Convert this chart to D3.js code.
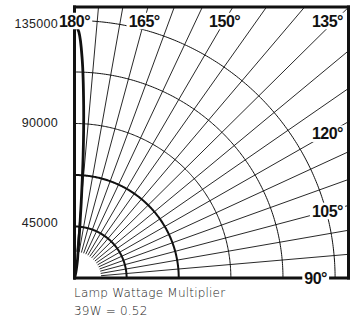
<!DOCTYPE html>
<html>
<head>
<meta charset="utf-8">
<script src="https://cdn.jsdelivr.net/npm/d3@7"></script>
<style>
  html, body { margin: 0; padding: 0; background: #fff; }
  svg { display: block; }
</style>
</head>
<body>
<svg id="chart" width="352" height="320"></svg>
<script>
// Candela distribution (vertical angle in degrees, intensity in cd)
const curveAngles = [180, 179, 178, 177, 176, 175, 174, 173, 172, 171, 170, 168, 165, 160];
const curveCandela = [134000, 130000, 118000, 98000, 76000, 56000, 44000, 37000, 33000, 31000, 29000, 26000, 24000, 22500];

// Grid
const ringValues = [45000, 67500, 90000, 112500, 135000];
const boldRings = [45000, 67500];
const tickValues = [45000, 90000, 135000];
const spokeAngles = d3.range(90, 181, 5);
const angleLabels = [90, 105, 120, 135, 150, 165, 180];
const innerValue = 34000;

// Notes under the plot
const noteLines = ["Lamp Wattage Multiplier", "39W = 0.52"];

const svg = d3.select("#chart");

// Plot frame (pole at lower-left corner)
const ox = 74.5, oy = 278, sx = 1.012;
const frame = { left: 74.5, top: 7, right: 348.5, bottom: 278 };

const r = d3.scaleLinear().domain([22500, 135000]).range([0, 257.5]);
const yAxisScale = d3.scaleLinear().domain([0, 135000]).range([322.1, 23.3]);

function proj(angle, rad) {
  const a = (180 - angle) * Math.PI / 180;
  return [ox + sx * rad * Math.sin(a), oy - rad * Math.cos(a)];
}

svg.append("defs").append("clipPath").attr("id", "frameClip")
  .append("rect")
  .attr("x", frame.left).attr("y", frame.top)
  .attr("width", frame.right - frame.left).attr("height", frame.bottom - frame.top);

const grid = svg.append("g").attr("clip-path", "url(#frameClip)");

// Spokes
grid.selectAll("line.spoke")
  .data(spokeAngles)
  .join("line")
  .attr("class", "spoke")
  .attr("x1", d => proj(d, r(innerValue))[0])
  .attr("y1", d => proj(d, r(innerValue))[1])
  .attr("x2", d => proj(d, 420)[0])
  .attr("y2", d => proj(d, 420)[1])
  .attr("stroke", "#111")
  .attr("stroke-width", 0.9);

// Rings
const arcSteps = d3.range(90, 180.001, 0.5);
const ringPath = d3.line();
grid.selectAll("path.ring")
  .data(ringValues)
  .join("path")
  .attr("class", "ring")
  .attr("d", v => ringPath(arcSteps.map(a => proj(a, r(v)))))
  .attr("fill", "none")
  .attr("stroke", "#111")
  .attr("stroke-width", v => boldRings.includes(v) ? 2 : 1);

// Candela curve
const curvePts = curveAngles.map((a, i) => proj(a, r(curveCandela[i])));
svg.append("path")
  .attr("d", d3.line().curve(d3.curveCatmullRom)(curvePts))
  .attr("fill", "none")
  .attr("stroke", "#111")
  .attr("stroke-width", 2.8)
  .attr("stroke-linecap", "round");

// Frame
const fg = svg.append("g").attr("stroke", "#111").attr("stroke-width", 3);
fg.append("line").attr("x1", frame.left - 1.5).attr("x2", frame.right + 1.5).attr("y1", frame.top).attr("y2", frame.top);
fg.append("line").attr("x1", frame.left - 1.5).attr("x2", frame.right + 1.5).attr("y1", frame.bottom).attr("y2", frame.bottom);
fg.append("line").attr("x1", frame.left).attr("x2", frame.left).attr("y1", frame.top - 1.5).attr("y2", frame.bottom + 1.5);
fg.append("line").attr("x1", frame.right).attr("x2", frame.right).attr("y1", frame.top - 1.5).attr("y2", frame.bottom + 1.5);

// Angle labels with white backing
const labelFs = 16;
const labelG = svg.append("g");
angleLabels.forEach(a => {
  const g = labelG.append("g");
  const bg = g.append("rect").attr("fill", "#fff");
  const t = g.append("text")
    .text(a + "°")
    .attr("font-family", "Liberation Sans, Arial, sans-serif")
    .attr("font-weight", "bold")
    .attr("font-size", labelFs)
    .attr("letter-spacing", "-0.5px")
    .attr("fill", "#111");
  const w = t.node().getComputedTextLength();
  const alpha = (180 - a) * Math.PI / 180;
  let cx, cy;
  if (a >= 135) {
    cy = 21;
    cx = ox + sx * (oy - cy) * Math.tan(alpha);
    cx = Math.min(cx, 343 - w / 2);
  } else if (a > 90) {
    cx = 343 - w / 2;
    cy = oy - ((cx - ox) / sx) / Math.tan(alpha);
  } else {
    cx = 327 - w / 2;
    cy = oy;
  }
  const base = cy + 0.36 * labelFs;
  t.attr("x", cx - w / 2).attr("y", base);
  const bb = t.node().getBBox();
  bg.attr("x", bb.x - 2).attr("y", cy - 0.36 * labelFs - 2.5)
    .attr("width", bb.width + 4).attr("height", 0.72 * labelFs + 5);
});

// Intensity axis labels
const axis = d3.axisLeft(yAxisScale).tickValues(tickValues).tickSize(0).tickPadding(0)
  .tickFormat(d3.format("d"));
const axG = svg.append("g").attr("transform", "translate(58,0)").call(axis);
axG.select(".domain").remove();
axG.selectAll("text")
  .attr("font-family", "Liberation Sans, Arial, sans-serif")
  .attr("font-size", 12.5)
  .attr("letter-spacing", "0.3px")
  .attr("fill", "#222");

// Notes
svg.selectAll("text.note")
  .data(noteLines)
  .join("text")
  .attr("class", "note")
  .attr("x", 74)
  .attr("y", (d, i) => 296.5 + i * 18.5)
  .attr("font-family", "DejaVu Sans, sans-serif")
  .attr("font-weight", 300)
  .attr("font-size", 12)
  .attr("letter-spacing", "0.2px")
  .attr("fill", "#222")
  .text(d => d);
</script>
</body>
</html>
